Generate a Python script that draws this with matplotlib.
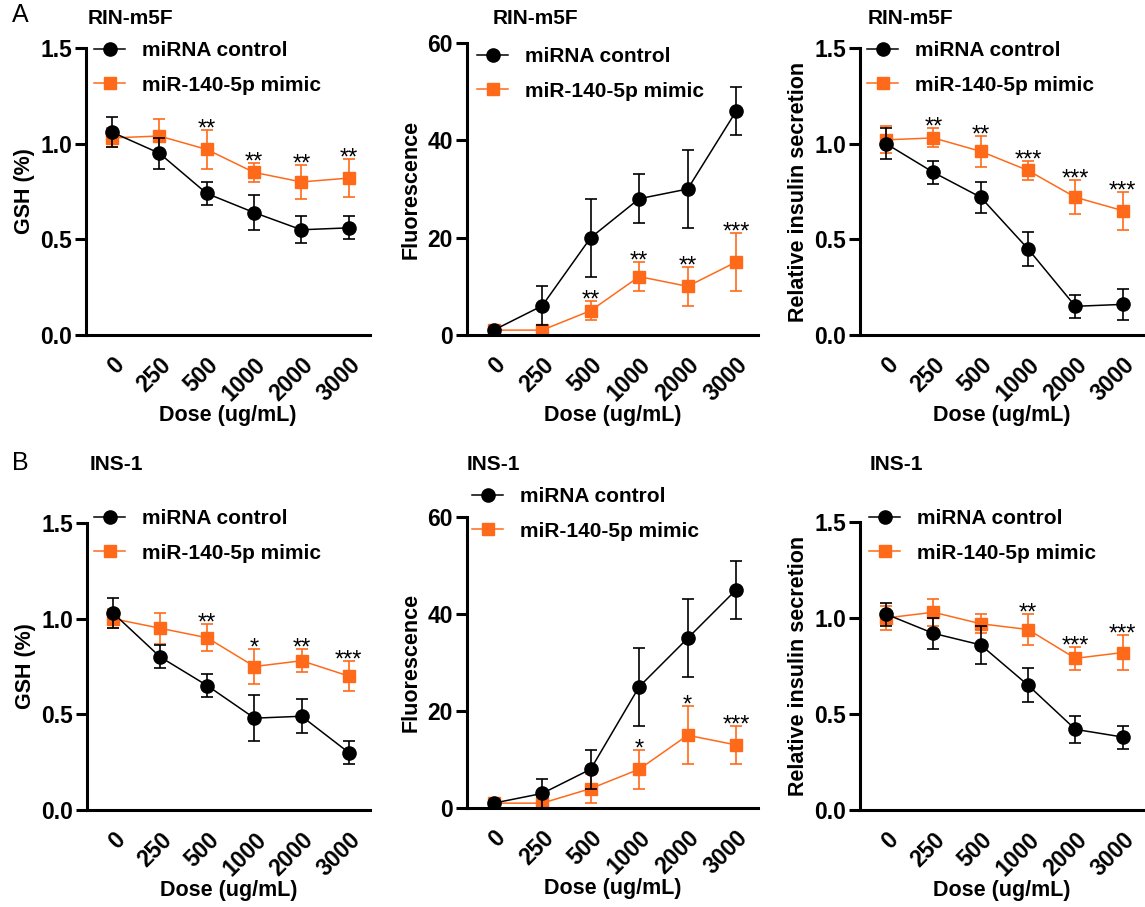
import matplotlib
matplotlib.use('Agg')
import matplotlib.pyplot as plt
from matplotlib.lines import Line2D
import numpy as np

plt.rcParams['font.family'] = ['Liberation Sans', 'DejaVu Sans']
plt.rcParams['font.weight'] = 'bold'
plt.rcParams['axes.labelweight'] = 'bold'

doses = ['0', '250', '500', '1000', '2000', '3000']
labels = ['miRNA control', 'miR-140-5p mimic']

# A - RIN-m5F
a_gsh_ctrl = [1.06, 0.95, 0.74, 0.64, 0.55, 0.56]
a_gsh_ctrl_err = [0.08, 0.08, 0.06, 0.09, 0.07, 0.06]
a_gsh_mim = [1.03, 1.04, 0.97, 0.85, 0.80, 0.82]
a_gsh_mim_err = [0.05, 0.09, 0.10, 0.05, 0.09, 0.10]
a_gsh_stars = ['', '', '**', '**', '**', '**']

a_fl_ctrl = [1, 6, 20, 28, 30, 46]
a_fl_ctrl_err = [0.5, 4, 8, 5, 8, 5]
a_fl_mim = [1, 1, 5, 12, 10, 15]
a_fl_mim_err = [1, 1, 2, 3, 4, 6]
a_fl_stars = ['', '', '**', '**', '**', '***']

a_ins_ctrl = [1.00, 0.85, 0.72, 0.45, 0.15, 0.16]
a_ins_ctrl_err = [0.08, 0.06, 0.08, 0.09, 0.06, 0.08]
a_ins_mim = [1.02, 1.03, 0.96, 0.86, 0.72, 0.65]
a_ins_mim_err = [0.07, 0.05, 0.08, 0.05, 0.09, 0.10]
a_ins_stars = ['', '**', '**', '***', '***', '***']

# B - INS-1
b_gsh_ctrl = [1.03, 0.80, 0.65, 0.48, 0.49, 0.30]
b_gsh_ctrl_err = [0.08, 0.06, 0.06, 0.12, 0.09, 0.06]
b_gsh_mim = [1.00, 0.95, 0.90, 0.75, 0.78, 0.70]
b_gsh_mim_err = [0.05, 0.08, 0.07, 0.09, 0.06, 0.08]
b_gsh_stars = ['', '', '**', '*', '**', '***']

b_fl_ctrl = [1, 3, 8, 25, 35, 45]
b_fl_ctrl_err = [0.5, 3, 4, 8, 8, 6]
b_fl_mim = [1, 1, 4, 8, 15, 13]
b_fl_mim_err = [1, 1, 3, 4, 6, 4]
b_fl_stars = ['', '', '', '*', '*', '***']

b_ins_ctrl = [1.02, 0.92, 0.86, 0.65, 0.42, 0.38]
b_ins_ctrl_err = [0.06, 0.08, 0.10, 0.09, 0.07, 0.06]
b_ins_mim = [1.00, 1.03, 0.97, 0.94, 0.79, 0.82]
b_ins_mim_err = [0.06, 0.07, 0.05, 0.08, 0.06, 0.09]
b_ins_stars = ['', '', '', '**', '***', '***']

ORANGE = '#FF6A1A'
W, H = 1145, 907


def px_rect(left, right, top, bottom):
    return [left / W, 1 - bottom / H, (right - left) / W, (bottom - top) / H]


def draw_panel(ax, ctrl, ctrl_err, mim, mim_err, stars, ylabel, ymax, ystep, fmt):
    x = np.arange(len(doses))
    ax.errorbar(x, ctrl, yerr=ctrl_err, color='black', marker='o', markersize=9.5,
                lw=1.1, elinewidth=1.2, capsize=4.5, capthick=1.2, zorder=3)
    ax.errorbar(x, mim, yerr=mim_err, color=ORANGE, marker='s', markersize=8.5,
                lw=1.1, elinewidth=1.2, capsize=4.5, capthick=1.2, zorder=2)
    for i, s in enumerate(stars):
        if s:
            ax.annotate(s, (x[i], mim[i] + mim_err[i]), xytext=(0, -4), textcoords='offset points',
                        ha='center', va='baseline', fontsize=17, fontweight='normal')
    ax.set_xlim(-0.55, 5.45)
    ax.set_ylim(0, ymax)
    ticks = np.arange(0, ymax + ystep / 2, ystep)
    ax.set_yticks(ticks)
    ax.set_yticklabels([fmt.format(v) for v in ticks])
    ax.set_xticks(x)
    ax.set_xticklabels(doses, rotation=45, ha='right', va='top', rotation_mode='anchor')
    ax.spines['top'].set_visible(False)
    ax.spines['right'].set_visible(False)
    ax.spines['left'].set_linewidth(2.2)
    ax.spines['bottom'].set_linewidth(2.2)
    ax.tick_params(axis='y', length=8, width=2.2, labelsize=16.5, pad=2)
    ax.tick_params(axis='x', length=0, labelsize=16.5, pad=13)
    ax.set_ylabel(ylabel, fontsize=15.5, labelpad=4)
    ax.set_xlabel('Dose (ug/mL)', fontsize=15.5, labelpad=0)


def add_legend(ax, marker_x, row1_y):
    handles = [Line2D([], [], color='black', marker='o', markersize=9.5, lw=1.1),
               Line2D([], [], color=ORANGE, marker='s', markersize=8.5, lw=1.1)]
    ax.legend(handles, labels, loc='upper left',
              bbox_to_anchor=((marker_x - 16) / W, 1 - (row1_y - 11) / H),
              bbox_transform=fig.transFigure, frameon=False, borderpad=0, borderaxespad=0,
              handlelength=1.5, handletextpad=0.8, labelspacing=0.75, fontsize=15)


fig = plt.figure(figsize=(W / 100, H / 100), dpi=100)

ax1 = fig.add_axes(px_rect(86, 370, 48, 335))
draw_panel(ax1, a_gsh_ctrl, a_gsh_ctrl_err, a_gsh_mim, a_gsh_mim_err, a_gsh_stars, 'GSH (%)', 1.5, 0.5, '{:.1f}')
add_legend(ax1, 110, 52)

ax2 = fig.add_axes(px_rect(467, 758, 43, 335))
draw_panel(ax2, a_fl_ctrl, a_fl_ctrl_err, a_fl_mim, a_fl_mim_err, a_fl_stars, 'Fluorescence', 60, 20, '{:.0f}')
add_legend(ax2, 493, 58)

ax3 = fig.add_axes(px_rect(860, 1144, 48, 335))
draw_panel(ax3, a_ins_ctrl, a_ins_ctrl_err, a_ins_mim, a_ins_mim_err, a_ins_stars, 'Relative insulin secretion', 1.5, 0.5, '{:.1f}')
add_legend(ax3, 883, 52)

ax4 = fig.add_axes(px_rect(87, 370, 523, 810))
draw_panel(ax4, b_gsh_ctrl, b_gsh_ctrl_err, b_gsh_mim, b_gsh_mim_err, b_gsh_stars, 'GSH (%)', 1.5, 0.5, '{:.1f}')
add_legend(ax4, 110, 520)

ax5 = fig.add_axes(px_rect(467, 758, 517, 808))
draw_panel(ax5, b_fl_ctrl, b_fl_ctrl_err, b_fl_mim, b_fl_mim_err, b_fl_stars, 'Fluorescence', 60, 20, '{:.0f}')
add_legend(ax5, 488, 498)

ax6 = fig.add_axes(px_rect(860, 1144, 522, 810))
draw_panel(ax6, b_ins_ctrl, b_ins_ctrl_err, b_ins_mim, b_ins_mim_err, b_ins_stars, 'Relative insulin secretion', 1.5, 0.5, '{:.1f}')
add_legend(ax6, 885, 520)

# panel titles and letters
for x_px, y_px, t in [(88, 18, 'RIN-m5F'), (493, 18, 'RIN-m5F'), (868, 18, 'RIN-m5F'),
                      (90, 465, 'INS-1'), (467, 465, 'INS-1'), (870, 465, 'INS-1')]:
    fig.text(x_px / W, 1 - y_px / H, t, fontsize=15, ha='left', va='center')
fig.text(12 / W, 1 - 15 / H, 'A', fontsize=18, fontweight='normal', ha='left', va='center')
fig.text(12 / W, 1 - 463 / H, 'B', fontsize=18, fontweight='normal', ha='left', va='center')

fig.savefig('out.png', dpi=100)
